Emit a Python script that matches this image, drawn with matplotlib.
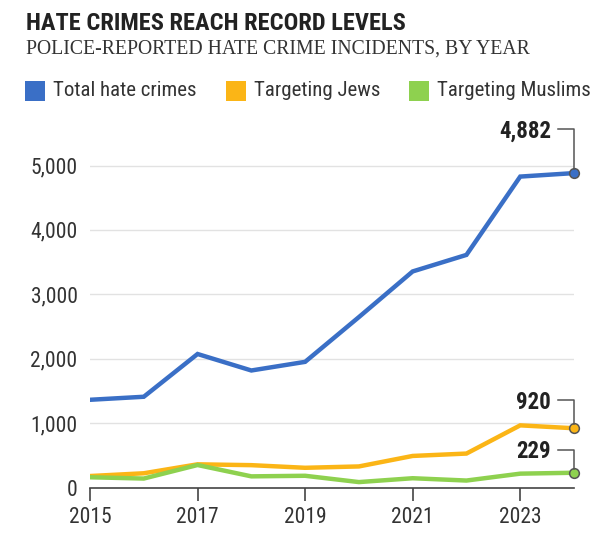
import matplotlib
matplotlib.use("Agg")
import matplotlib.pyplot as plt
from matplotlib.patches import Rectangle

plt.rcParams['font.family'] = ['Roboto Condensed', 'DejaVu Sans']

# data
years = [2015, 2016, 2017, 2018, 2019, 2020, 2021, 2022, 2023, 2024]
total = [1362, 1409, 2073, 1817, 1951, 2646, 3355, 3612, 4828, 4882]
jews = [178, 221, 360, 347, 306, 327, 490, 527, 965, 920]
muslims = [159, 139, 349, 173, 182, 84, 144, 108, 215, 229]
series_names = ["Total hate crimes", "Targeting Jews", "Targeting Muslims"]
colors = ["#3a6fc6", "#fbb516", "#8ed14f"]
yticks = [0, 1000, 2000, 3000, 4000, 5000]
xticks = [2015, 2017, 2019, 2021, 2023]

W, H = 614, 538
fig = plt.figure(figsize=(W / 100, H / 100), dpi=100)

# axes placed in pixels: x 90..574, y=0 at 487, 1000 per 64.4 px
x0, x1 = 90, 574
ybot = 487.5
per1000 = 64.4
ytop_val = 5500
ytop = ybot - ytop_val / 1000 * per1000
ax = fig.add_axes([x0 / W, 1 - ybot / H, (x1 - x0) / W, (ybot - ytop) / H])
ax.set_xlim(2015, 2024)
ax.set_ylim(0, ytop_val)

for side in ["left", "right", "top"]:
    ax.spines[side].set_visible(False)
ax.spines["bottom"].set_color("#444444")
ax.spines["bottom"].set_linewidth(1.2)

ax.set_yticks(yticks)
ax.set_yticklabels([f"{v:,}" for v in yticks])
ax.tick_params(axis="y", length=0, pad=9, labelsize=15.5, labelcolor="#333333")
ax.set_xticks(xticks)
ax.set_xticklabels([str(v) for v in xticks])
ax.tick_params(axis="x", length=9, width=1.2, color="#444444", pad=5,
               labelsize=15.5, labelcolor="#333333")
for v in yticks[1:]:
    ax.axhline(v, color="#e2e2e2", lw=1, zorder=0)

all_series = [total, jews, muslims]
for vals, c in zip(all_series, colors):
    ax.plot(years, vals, color=c, lw=3.2, solid_joinstyle="miter", zorder=3)
    ax.plot(years[-1], vals[-1], "o", ms=7, mfc=c, mec="#555555", mew=1.1,
            zorder=5, clip_on=False)

# end labels with leader lines
rise = [44, 28, 23]
inv = fig.transFigure.inverted()
for vals, r in zip(all_series, rise):
    px, py = ax.transData.transform((years[-1], vals[-1]))
    pts = [(px - 16, py + r), (px, py + r), (px, py + 4)]
    fpts = inv.transform(pts)
    fig.add_artist(plt.Line2D(fpts[:, 0], fpts[:, 1], color="#555555", lw=1.1))
    tx, ty = inv.transform((px - 23, py + r - 2))
    fig.text(tx, ty, f"{vals[-1]:,}", ha="right", va="center", fontsize=16.5,
             fontweight="bold", color="#222222")

# titles
fig.text(26 / W, 1 - 23.5 / H, "HATE CRIMES REACH RECORD LEVELS", fontsize=17.6,
         fontweight="bold", color="#222222", va="center", ha="left")
fig.text(26 / W, 1 - 49 / H, "POLICE-REPORTED HATE CRIME INCIDENTS, BY YEAR",
         fontsize=14.2, family=["Liberation Serif", "DejaVu Serif"],
         color="#333333", va="center", ha="left")

# legend
renderer = fig.canvas.get_renderer()
lx = 25
ly = 91
for name, c in zip(series_names, colors):
    sq = 20
    fig.add_artist(Rectangle((lx / W, 1 - (ly + sq / 2) / H), sq / W, sq / H,
                             transform=fig.transFigure, color=c, lw=0))
    t = fig.text((lx + sq + 8) / W, 1 - ly / H, name, fontsize=15,
                 color="#333333", va="center", ha="left")
    bb = t.get_window_extent(renderer)
    lx = lx + sq + 8 + bb.width + 29

fig.savefig("out.png", dpi=100)
